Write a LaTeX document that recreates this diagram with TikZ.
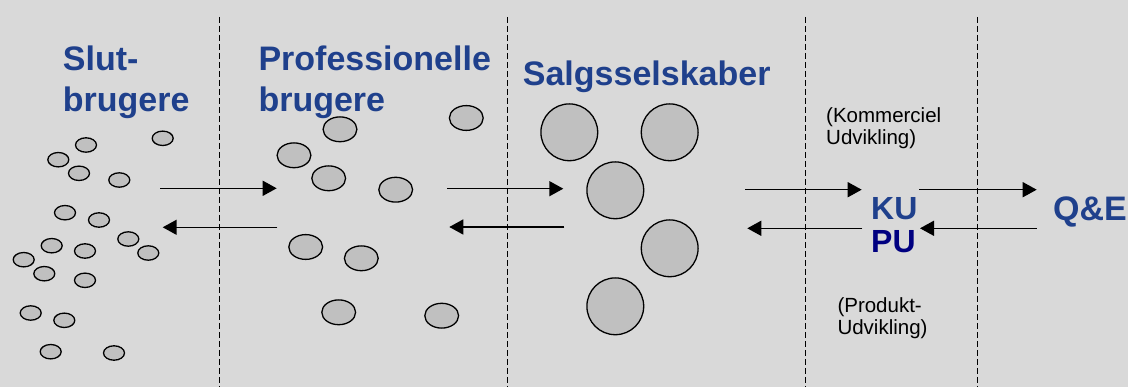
\documentclass[tikz,border=0pt]{standalone}
\usepackage{fontspec}
\setmainfont{Liberation Sans}
\usetikzlibrary{arrows.meta}
\definecolor{bg}{RGB}{217,217,217}
\definecolor{ttl}{RGB}{31,64,140}
\definecolor{navyPU}{RGB}{0,0,128}
\definecolor{dotfill}{RGB}{192,192,192}
\newcommand\twoline[2]{\vtop{\hbox{#1}\hbox{#2}}}
\begin{document}
\begin{tikzpicture}[x=1pt,y=-1pt,
  title/.style={anchor=base west, inner sep=0pt, text=ttl, font=\fontsize{34}{41.5}\selectfont\bfseries},
  abbr/.style={anchor=base west, inner sep=0pt, text=ttl, font=\fontsize{32}{38}\selectfont\bfseries},
  small/.style={anchor=base west, inner sep=0pt, text=black, font=\fontsize{20.5}{22.3}\selectfont},
  divider/.style={line width=1pt, dash pattern=on 6pt off 3pt},
  dot/.style={draw=black, fill=dotfill, line width=1.3pt},
  conn/.style={line width=1.5pt, -{Triangle[length=14pt,width=15pt]}}]
\fill[bg] (0,0) rectangle (1128,387);
\useasboundingbox (0,0) rectangle (1128,387);
% dividers
\foreach \x in {219.5,507.3,805.3,977.7} \draw[divider] (\x,17) -- (\x,387);
% titles
\node[title] (slut) at (62.7,70.5) {\twoline{Slut-}{brugere}};
\node[title] (prof) at (258.3,70.5) {\twoline{Professionelle}{brugere}};
\node[title] (salg) at (522.7,86) {Salgsselskaber};
\node[abbr] (ku) at (871,220) {KU};
\node[abbr, text=navyPU] (pu) at (871,253) {PU};
\node[title] (qe) at (1053,221) {Q\&E};
\node[small] (kom) at (826,122.7) {\twoline{(Kommerciel}{Udvikling)}};
\node[small] (prod) at (837.3,312.7) {\twoline{(Produkt-}{Udvikling)}};
% end users
\foreach \x/\y in {162.7/138.3, 86/145, 58.3/159.7, 79/173.3, 119.3/180, 65/212.7, 99/220, 128.3/239, 51.7/245.7, 85/251, 148.3/253, 23.7/259.7, 44.3/273.7, 85/280.3, 30.7/313, 64.3/320.3, 50.7/351.7, 114/353}
  \draw[dot] (\x,\y) ellipse [x radius=10.5pt, y radius=7.2pt];
% professional users
\foreach \x/\y in {340/129.3, 466.3/118, 294/155.3, 328.7/178.3, 395.7/189.7, 305.7/247, 361.3/258.3, 338.7/312.3, 441.7/315.7}
  \draw[dot] (\x,\y) ellipse [x radius=16.9pt, y radius=12.4pt];
% sales companies
\foreach \x/\y in {569.3/132.3, 669.7/132.3, 615.3/190.3, 669.7/248.3, 615.3/306.3}
  \draw[dot] (\x,\y) circle [radius=28.4pt];
% arrow end points
\coordinate (a1s) at (160,188.3);   \coordinate (a1e) at (276.7,188.3);
\coordinate (b1s) at (277.3,227.3); \coordinate (b1e) at (162.7,227.3);
\coordinate (a2s) at (447.3,188.7); \coordinate (a2e) at (563.3,188.7);
\coordinate (b2s) at (564.3,227);   \coordinate (b2e) at (449.3,227);
\coordinate (a3s) at (745,189.7);   \coordinate (a3e) at (861.7,189.7);
\coordinate (b3s) at (862.3,228.3); \coordinate (b3e) at (747.3,228.3);
\coordinate (a4s) at (919,189.7);   \coordinate (a4e) at (1036.7,189.7);
\coordinate (b4s) at (1036.7,228.3);\coordinate (b4e) at (920,228.3);
\draw[conn] (a1s) -- (a1e);
\draw[conn] (b1s) -- (b1e);
\draw[conn] (a2s) -- (a2e);
\draw[conn] (b2s) -- (b2e);
\draw[conn] (a3s) -- (a3e);
\draw[conn] (b3s) -- (b3e);
\draw[conn] (a4s) -- (a4e);
\draw[conn] (b4s) -- (b4e);
\end{tikzpicture}
\end{document}
